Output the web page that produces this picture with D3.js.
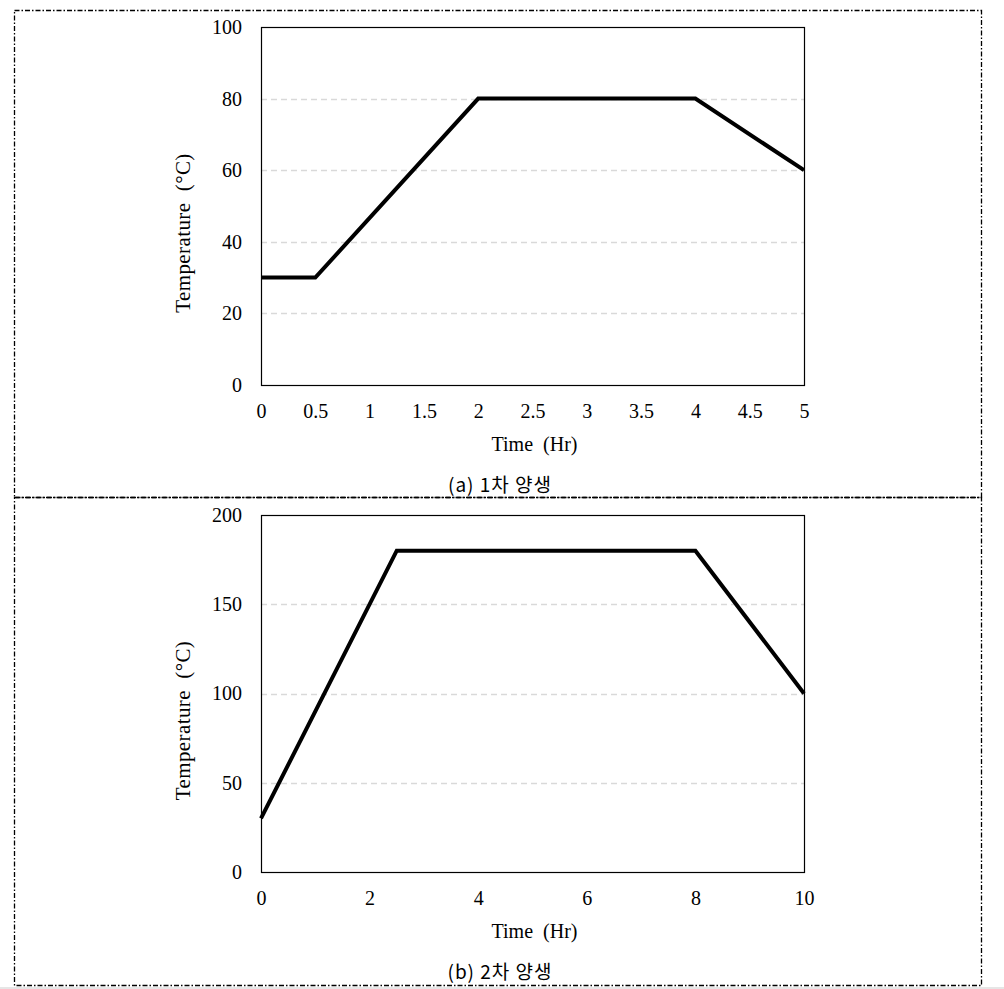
<!DOCTYPE html>
<html><head><meta charset="utf-8">
<script src="https://cdn.jsdelivr.net/npm/d3@7"></script>
<style>body{margin:0;background:#fff}svg{display:block}text{white-space:pre}</style>
</head><body>
<script>
// Chart (a)
const timeA = [0, 0.5, 2, 4, 5];
const tempA = [30, 30, 80, 80, 60];
const xTicksA = [0, 0.5, 1, 1.5, 2, 2.5, 3, 3.5, 4, 4.5, 5];
const yTicksA = [0, 20, 40, 60, 80, 100];
const captionA = "(a) 1차 양생";
// Chart (b)
const timeB = [0, 2.5, 8, 10];
const tempB = [30, 180, 180, 100];
const xTicksB = [0, 2, 4, 6, 8, 10];
const yTicksB = [0, 50, 100, 150, 200];
const captionB = "(b) 2차 양생";
const xTitle = "Time  (Hr)";
const yTitle = "Temperature  (°C)";

const W = 1004, H = 989;
const svg = d3.select("body").append("svg").attr("width", W).attr("height", H);
svg.append("rect").attr("x",0).attr("y",987).attr("width",W).attr("height",2).attr("fill","#e6e6e6");

// frames
const frameStyle = g => g.attr("fill","none").attr("stroke","#000").attr("stroke-width",1.3).attr("stroke-dasharray","5,2,1.5,2");
svg.append("rect").attr("x",14.5).attr("y",10.5).attr("width",967).attr("height",487).call(frameStyle);
svg.append("rect").attr("x",14.5).attr("y",497.5).attr("width",967).attr("height",488).call(frameStyle);

function drawChart(cfg){
  const {xs, ys, xTicks, yTicks, xMax, yMax, top, bottom, caption, captionY} = cfg;
  const left = 261, right = 804;
  const x = d3.scaleLinear().domain([0, xMax]).range([left, right]);
  const y = d3.scaleLinear().domain([0, yMax]).range([bottom, top]);
  const g = svg.append("g");
  // grid
  g.selectAll("line.grid").data(yTicks.filter(t => t > 0 && t < yMax)).join("line")
    .attr("x1", left).attr("x2", right).attr("y1", d => Math.round(y(d))+0.5).attr("y2", d => Math.round(y(d))+0.5)
    .attr("stroke","#d9d9d9").attr("stroke-width",1.5).attr("stroke-dasharray","6,4");
  // box
  g.append("rect").attr("x", left+0.5).attr("y", top+0.5).attr("width", right-left).attr("height", bottom-top)
    .attr("fill","none").attr("stroke","#000").attr("stroke-width",1.2);
  // axes via d3
  const xa = g.append("g").attr("transform",`translate(0,${bottom})`)
    .call(d3.axisBottom(x).tickValues(xTicks).tickSize(0).tickPadding(19).tickFormat(d3.format("")));
  xa.select(".domain").remove();
  const ya = g.append("g").attr("transform",`translate(${left},0)`)
    .call(d3.axisLeft(y).tickValues(yTicks).tickSize(0).tickPadding(19).tickFormat(d3.format("")));
  ya.select(".domain").remove();
  g.selectAll(".tick text").attr("font-family","'Liberation Serif', 'Times New Roman', serif").attr("font-size",20).attr("fill","#000");
  // line
  const pts = xs.map((v,i)=>[v, ys[i]]);
  g.append("path").datum(pts).attr("d", d3.line().x(d=>x(d[0])).y(d=>y(d[1])))
    .attr("fill","none").attr("stroke","#000").attr("stroke-width",4).attr("stroke-linejoin","miter");
  // titles
  g.append("text").attr("x", (left+right)/2 + 2).attr("y", bottom+66).attr("text-anchor","middle")
    .attr("font-family","'Liberation Serif', serif").attr("font-size",20).text(xTitle);
  g.append("text").attr("transform",`translate(190,${(top+bottom)/2 + 27}) rotate(-90)`).attr("text-anchor","middle")
    .attr("font-family","'Liberation Serif', serif").attr("font-size",21).attr("letter-spacing",0.4).text(yTitle);
  g.append("text").attr("x", 500).attr("y", captionY).attr("text-anchor","middle")
    .attr("font-family","'Noto Sans CJK KR', sans-serif").attr("font-size",19).attr("letter-spacing",1).text(caption);
}

drawChart({xs: timeA, ys: tempA, xTicks: xTicksA, yTicks: yTicksA, xMax: 5, yMax: 100, top: 27, bottom: 385, caption: captionA, captionY: 492});
drawChart({xs: timeB, ys: tempB, xTicks: xTicksB, yTicks: yTicksB, xMax: 10, yMax: 200, top: 515, bottom: 872, caption: captionB, captionY: 979});
</script>
</body></html>
